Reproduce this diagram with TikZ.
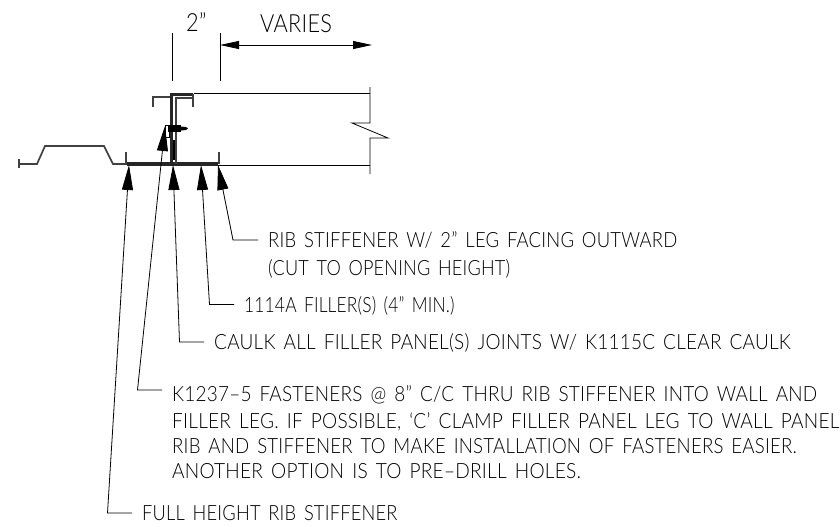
\documentclass[tikz,border=0pt]{standalone}
\usepackage{fontspec}
\setmainfont{Lato Light}[FakeStretch=0.87,WordSpace=1.5,LetterSpace=1]
\usepackage{tikz}
\usetikzlibrary{arrows.meta, positioning}

\newcommand{\notefit}[2]{\scalebox{#1}[1]{#2}}

\tikzset{
    note/.style={anchor=west, inner xsep=10pt, inner ysep=0pt, text height=15pt, text depth=0pt, font=\fontsize{21}{21}\selectfont},
    dimtext/.style={inner sep=0pt, text height=18pt, text depth=0pt, font=\fontsize{25}{25}\selectfont},
    leader/.style={line width=0.8pt, -{Triangle[length=25pt,width=11pt]}},
    dimarrow/.style={line width=0.8pt, {Triangle[length=19pt,width=8pt]}-{Triangle[length=19pt,width=8pt]}},
    thin line/.style={line width=0.8pt},
    sheet/.style={line width=1.7pt, draw=black!75},
    heavy/.style={line width=3.4pt, draw=black!85}
}

\begin{document}
\begin{tikzpicture}[x=1pt,y=-1pt]
    \useasboundingbox (0,0) rectangle (840,527);

    % Points
    \coordinate (ribTip) at (218,165);
    \coordinate (ribElbow) at (233,240);
    \coordinate (fillerTip) at (201,165);
    \coordinate (fillerElbow) at (209.5,304.5);
    \coordinate (caulkTip) at (173,165);
    \coordinate (caulkElbow) at (179.5,342);
    \coordinate (fastTip) at (165,126);
    \coordinate (fastElbow) at (137.5,390);
    \coordinate (fullTip) at (129,165);
    \coordinate (fullElbow) at (107.5,513);

    % Wall panel
    \draw[sheet] (19,159) -- (19,168);
    \draw[sheet] (19,164) -- (37,164) -- (45,146) -- (104,146) -- (113,164) -- (127,164);
    \draw[sheet] (126,152) -- (126,164);

    % Filler
    \draw[heavy] (127,164) -- (218,164);
    \draw[sheet] (219,152) -- (219,164);
    \draw[thin line] (218,165) -- (370,165);
    \draw[thin line] (194,93) -- (370,93);
    \draw[thin line] (370,87) -- (370,123) -- (352,123) -- (388,138) -- (370,138) -- (370,174);

    % Stiffener
    \draw[sheet, line width=2.2pt] (153,107) -- (153,97) -- (170,97);
    \draw[heavy] (171.5,164) -- (171.5,94.5) -- (193,94.5);
    \draw[sheet] (193,94) -- (193,107);
    \draw[sheet] (176,164) -- (176,98) -- (192,98);

    % Fastener
    \draw[line width=1pt] (165.5,125.5) rectangle (169.5,137);
    \fill (168,125) rectangle (181,132);
    \fill (181,126.5) -- (186,127) -- (188,128.5) -- (186,130) -- (181,130.5) -- cycle;
    \fill (173,140) rectangle (175,160);

    % Dimensions
    \draw[thin line] (172,33) -- (172,81);
    \draw[thin line] (220,33) -- (220,81);
    \coordinate (dimLeft) at (220,45);
    \coordinate (dimRight) at (372,45);
    \draw[dimarrow] (dimLeft) -- (dimRight);
    \node[dimtext, anchor=south west] (dimTwo) at (186,32) {2”};
    \node[dimtext, anchor=south west] (dimVaries) at (260,33) {VARIES};

    % Notes
    \node[note] (ribNote) at (258,240) {\notefit{1.01}{RIB STIFFENER W/ 2” LEG FACING OUTWARD}};
    \node[note] (ribNoteB) at (258,268) {\notefit{0.99}{(CUT TO OPENING HEIGHT)}};
    \node[note] (fillerNote) at (234,304.5) {\notefit{0.95}{1114A FILLER(S) (4” MIN.)}};
    \node[note] (caulkNote) at (204,342) {\notefit{1.04}{CAULK ALL FILLER PANEL(S) JOINTS W/ K1115C CLEAR CAULK}};
    \node[note] (fastNote) at (162,393.5) {\notefit{1.038}{K1237–5 FASTENERS @ 8” C/C THRU RIB STIFFENER INTO WALL AND}};
    \node[note] (fastNoteB) at (162,420.5) {\notefit{1.045}{FILLER LEG. IF POSSIBLE, ‘C’ CLAMP FILLER PANEL LEG TO WALL PANEL}};
    \node[note] (fastNoteC) at (162,445.5) {\notefit{1.02}{RIB AND STIFFENER TO MAKE INSTALLATION OF FASTENERS EASIER.}};
    \node[note] (fastNoteD) at (162,470.5) {\notefit{1.047}{ANOTHER OPTION IS TO PRE–DRILL HOLES.}};
    \node[note] (fullNote) at (132,513) {FULL HEIGHT RIB STIFFENER};

    % Leaders
    \draw[leader] (ribNote.west) -- (ribElbow) -- (ribTip);
    \draw[leader] (fillerNote.west) -- (fillerElbow) -- (fillerTip);
    \draw[leader] (caulkNote.west) -- (caulkElbow) -- (caulkTip);
    \draw[leader] (fastElbow -| fastNote.west) -- (fastElbow) -- (fastTip);
    \draw[leader] (fullNote.west) -- (fullElbow) -- (fullTip);
\end{tikzpicture}
\end{document}
